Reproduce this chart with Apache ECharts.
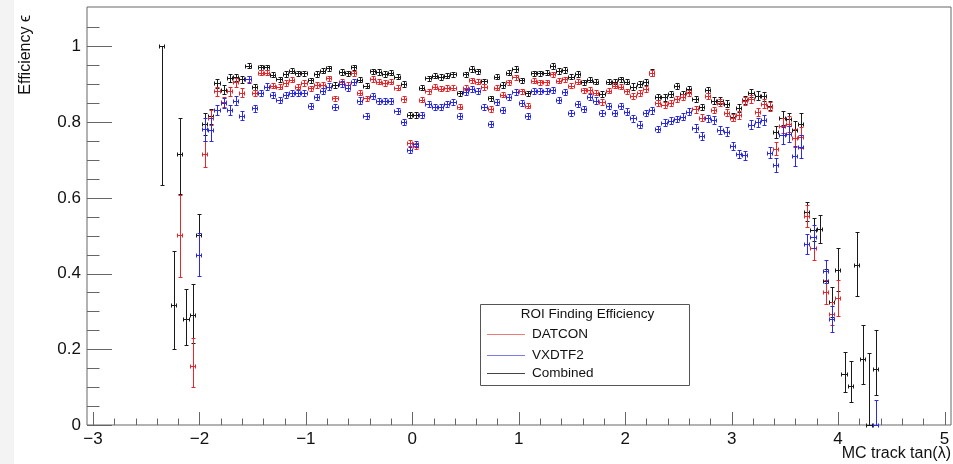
<!DOCTYPE html>
<html>
<head>
<meta charset="utf-8">
<title>ROI Finding Efficiency</title>
<script src="https://cdn.jsdelivr.net/npm/echarts@6/dist/echarts.min.js"></script>
<style>
  html, body { margin: 0; padding: 0; background: #fff; }
  #chart { width: 953px; height: 464px; }
</style>
</head>
<body>
<div id="chart"></div>
<script>
// Histogram binning in tan(lambda): centre of the first filled bin and bin width
const BIN_FIRST = -2.355;
const BIN_WIDTH = 0.05833;

// Axis ticks
const X_TICKS = [-3, -2, -1, 0, 1, 2, 3, 4, 5];
const X_TICK_LABELS = ['−3', '−2', '−1', '0', '1', '2', '3', '4', '5'];
const X_MINOR_STEP = 0.2;
const Y_TICKS = [0, 0.2, 0.4, 0.6, 0.8, 1];
const Y_TICK_LABELS = ['0', '0.2', '0.4', '0.6', '0.8', '1'];
const Y_MINOR_STEP = 0.05;

// Efficiency per bin: [eff, err] or [eff, errDown, errUp]; null = empty bin
const COMBINED = [
  [1.000, 0.365, 0], null, [0.316, 0.116, 0.144], [0.716, 0.106, 0.094], [0.281, 0.069, 0.079],
  [0.290, 0.073, 0.083], [0.503, 0.055], [0.795, 0.030], [0.815, 0.020], [0.903, 0.012],
  [0.885, 0.012], [0.916, 0.010], [0.918, 0.010], [0.913, 0.010], [0.949, 0.007],
  [0.892, 0.008], [0.945, 0.007], [0.945, 0.007], [0.925, 0.007], [0.913, 0.007],
  [0.927, 0.007], [0.936, 0.007], [0.929, 0.007], [0.929, 0.007], [0.910, 0.007],
  [0.927, 0.007], [0.936, 0.007], [0.942, 0.007], [0.898, 0.007], [0.932, 0.007],
  [0.929, 0.007], [0.945, 0.007], [0.912, 0.007], [0.896, 0.007], [0.934, 0.007],
  [0.932, 0.007], [0.927, 0.007], [0.931, 0.007], [0.920, 0.007], [0.901, 0.007],
  [0.819, 0.007], [0.819, 0.007], [0.891, 0.007], [0.916, 0.007], [0.923, 0.007],
  [0.919, 0.007], [0.923, 0.007], [0.926, 0.007], [0.876, 0.007], [0.926, 0.007],
  [0.940, 0.007], [0.934, 0.007], [0.908, 0.007], [0.863, 0.007], [0.920, 0.007],
  [0.898, 0.007], [0.931, 0.007], [0.940, 0.007], [0.910, 0.007], [0.876, 0.007],
  [0.929, 0.007], [0.929, 0.007], [0.931, 0.007], [0.948, 0.007], [0.935, 0.007],
  [0.938, 0.007], [0.920, 0.007], [0.927, 0.007], [0.905, 0.007], [0.912, 0.007],
  [0.907, 0.007], [0.874, 0.007], [0.907, 0.007], [0.907, 0.007], [0.913, 0.007],
  [0.907, 0.007], [0.894, 0.008], [0.900, 0.008], [0.905, 0.008], [0.931, 0.008],
  [0.866, 0.008], [0.865, 0.008], [0.873, 0.008], [0.896, 0.008], [0.873, 0.008],
  [0.887, 0.008], [0.861, 0.009], [0.840, 0.009], [0.885, 0.009], [0.856, 0.009],
  [0.857, 0.009], [0.849, 0.010], [0.814, 0.010], [0.837, 0.010], [0.858, 0.010],
  [0.876, 0.011], [0.870, 0.011], [0.868, 0.012], [0.843, 0.012], [0.773, 0.016],
  [0.811, 0.018], [0.807, 0.018], [0.780, 0.022], [0.795, 0.028], [0.562, 0.024, 0.026],
  [0.516, 0.030], [0.518, 0.037], [0.381, 0.030], [0.324, 0.040], [0.410, 0.057],
  [0.135, 0.047, 0.058], [0.104, 0.044, 0.064], [0.423, 0.083, 0.087], [0.173, 0.066, 0.090], [0, 0, 0.189],
  [0.148, 0.070, 0.104]
];

const DATCON = [
  null, null, null, [0.503, 0.113, 0.105], null,
  [0.157, 0.057, 0.073], null, [0.716, 0.035], [0.812, 0.020], [0.881, 0.013],
  [0.854, 0.013], [0.881, 0.011], [0.905, 0.011], [0.878, 0.011], [0.915, 0.008],
  [0.876, 0.008], [0.931, 0.007], [0.931, 0.007], [0.896, 0.007], [0.894, 0.007],
  [0.903, 0.007], [0.912, 0.007], [0.894, 0.007], [0.903, 0.007], [0.889, 0.007],
  [0.898, 0.007], [0.898, 0.007], [0.916, 0.007], [0.863, 0.007], [0.907, 0.007],
  [0.898, 0.007], [0.929, 0.007], [0.878, 0.007], [0.863, 0.007], [0.914, 0.007],
  [0.907, 0.007], [0.903, 0.007], [0.907, 0.007], [0.891, 0.007], [0.861, 0.007],
  [0.746, 0.008], [0.736, 0.008], [0.859, 0.007], [0.881, 0.007], [0.894, 0.007],
  [0.888, 0.007], [0.890, 0.007], [0.891, 0.007], [0.841, 0.007], [0.891, 0.007],
  [0.910, 0.007], [0.907, 0.007], [0.893, 0.007], [0.835, 0.007], [0.891, 0.007],
  [0.872, 0.007], [0.905, 0.007], [0.918, 0.007], [0.881, 0.007], [0.843, 0.007],
  [0.909, 0.007], [0.905, 0.007], [0.905, 0.007], [0.926, 0.007], [0.909, 0.007],
  [0.913, 0.007], [0.896, 0.007], [0.907, 0.007], [0.884, 0.007], [0.885, 0.007],
  [0.878, 0.007], [0.853, 0.007], [0.883, 0.007], [0.896, 0.007], [0.894, 0.007],
  [0.881, 0.007], [0.870, 0.008], [0.876, 0.008], [0.887, 0.008], [0.930, 0.008],
  [0.850, 0.008], [0.845, 0.008], [0.850, 0.008], [0.861, 0.008], [0.867, 0.008],
  [0.877, 0.008], [0.834, 0.009], [0.812, 0.009], [0.869, 0.009], [0.832, 0.009],
  [0.851, 0.009], [0.825, 0.010], [0.812, 0.010], [0.819, 0.010], [0.856, 0.010],
  [0.861, 0.011], [0.826, 0.011], [0.848, 0.012], [0.841, 0.012], [0.730, 0.018],
  [0.790, 0.020], [0.795, 0.020], [0.759, 0.024], [0.760, 0.028], [0.553, 0.029],
  [0.467, 0.030], null, [0.351, 0.031], [0.294, 0.030], [0.336, 0.048],
  null, null, null, null, null,
  null
];

const VXDTF2 = [
  null, null, null, null, null,
  null, [0.450, 0.057], [0.781, 0.030], [0.780, 0.030], [0.832, 0.014],
  [0.850, 0.014], [0.832, 0.012], [0.856, 0.012], [0.817, 0.012], [0.913, 0.009],
  [0.837, 0.009], [0.878, 0.008], [0.894, 0.008], [0.872, 0.008], [0.859, 0.008],
  [0.872, 0.008], [0.876, 0.008], [0.876, 0.008], [0.876, 0.008], [0.843, 0.008],
  [0.867, 0.008], [0.881, 0.008], [0.894, 0.008], [0.841, 0.008], [0.900, 0.008],
  [0.890, 0.008], [0.905, 0.008], [0.857, 0.008], [0.817, 0.008], [0.870, 0.008],
  [0.855, 0.008], [0.856, 0.008], [0.856, 0.008], [0.830, 0.008], [0.800, 0.008],
  [0.727, 0.008], [0.743, 0.008], [0.818, 0.008], [0.847, 0.008], [0.839, 0.008],
  [0.840, 0.008], [0.848, 0.008], [0.852, 0.008], [0.815, 0.008], [0.879, 0.008],
  [0.888, 0.008], [0.881, 0.008], [0.840, 0.008], [0.795, 0.008], [0.852, 0.008],
  [0.833, 0.008], [0.866, 0.008], [0.879, 0.008], [0.850, 0.008], [0.817, 0.008],
  [0.881, 0.008], [0.883, 0.008], [0.883, 0.008], [0.885, 0.008], [0.859, 0.008],
  [0.879, 0.008], [0.825, 0.008], [0.847, 0.008], [0.834, 0.008], [0.866, 0.008],
  [0.857, 0.008], [0.825, 0.008], [0.843, 0.008], [0.825, 0.008], [0.843, 0.008],
  [0.828, 0.008], [0.810, 0.009], [0.793, 0.009], [0.824, 0.009], [0.831, 0.009],
  [0.782, 0.009], [0.798, 0.009], [0.804, 0.009], [0.808, 0.009], [0.814, 0.009],
  [0.827, 0.009], [0.784, 0.010], [0.764, 0.010], [0.810, 0.010], [0.805, 0.010],
  [0.779, 0.010], [0.775, 0.011], [0.737, 0.011], [0.715, 0.011], [0.712, 0.011],
  [0.793, 0.012], [0.799, 0.012], [0.806, 0.013], [0.719, 0.014], [0.686, 0.018],
  [0.765, 0.022], [0.769, 0.022], [0.710, 0.026], [0.735, 0.030], [0.478, 0.027],
  [0.497, 0.030], null, [0.406, 0.031], [0.280, 0.034], null,
  null, null, null, null, null,
  [0, 0, 0.067]
];

const COLORS = { DATCON: '#e8262b', VXDTF2: '#2b2be6', Combined: '#1a1a1a' };
const LEGEND_LINE_COLORS = { DATCON: '#ec7a7a', VXDTF2: '#7a7ae8', Combined: '#444' };

const X_MIN = -3.056, X_MAX = 5.061;
const Y_MIN = 0, Y_MAX = 1.104;
const FONT = '"Liberation Sans", Arial, Helvetica, sans-serif';
const AXIS_COLOR = '#666';

// Turn the per-bin table into [x, eff, errDown, errUp] items
function toItems(bins) {
  const out = [];
  bins.forEach((e, i) => {
    if (!e) return;
    const x = BIN_FIRST + i * BIN_WIDTH;
    const lo = e[1];
    const hi = e.length > 2 ? e[2] : e[1];
    out.push([x, e[0], lo, hi]);
  });
  return out;
}

const half = v => Math.round(v) + 0.5;

// Error-bar cross with small end caps
function errorBars(color) {
  return function (params, api) {
    const x = api.value(0), y = api.value(1), lo = api.value(2), hi = api.value(3);
    const hw = BIN_WIDTH / 2;
    const l = api.coord([x - hw, y]);
    const r = api.coord([x + hw, y]);
    const c = api.coord([x, y]);
    const b = api.coord([x, y - lo]);
    const t = api.coord([x, y + hi]);
    const px = half(c[0]), py = half(c[1]);
    const by = half(b[1]), ty = half(t[1]);
    const lx = Math.round(l[0]) + 0.5, rx = Math.round(r[0]) - 0.5;
    const cap = 2;
    const style = { stroke: color, lineWidth: 1, fill: null };
    const seg = (x1, y1, x2, y2) => ({ type: 'line', shape: { x1, y1, x2, y2 }, style });
    const children = [
      seg(lx, py, rx, py),
      seg(px, by, px, ty),
      seg(lx, py - cap, lx, py + cap),
      seg(rx, py - cap, rx, py + cap)
    ];
    if (lo > 0) children.push(seg(px - cap, by, px + cap, by));
    if (hi > 0) children.push(seg(px - cap, ty, px + cap, ty));
    return { type: 'group', children };
  };
}

// Tick values
const xTickData = X_TICKS.map(v => [v, 1]);
for (let v = X_TICKS[0]; v < X_TICKS[X_TICKS.length - 1] - 1e-9; v += X_MINOR_STEP) {
  const r = Math.round(v * 10) / 10;
  if (Math.abs(r - Math.round(r)) > 1e-6) xTickData.push([r, 0]);
}
const yTickData = Y_TICKS.map(v => [v, 1]);
for (let k = 0; k * Y_MINOR_STEP < Y_MAX - 0.03; k++) {
  const v = Math.round(k * Y_MINOR_STEP * 100) / 100;
  if (Math.abs(v * 5 - Math.round(v * 5)) > 1e-6) yTickData.push([v, 0]);
}

const xTicks = {
  type: 'custom', coordinateSystem: 'cartesian2d', silent: true, clip: false, z: 5,
  data: xTickData,
  encode: { x: 0 },
  renderItem: function (params, api) {
    const v = api.value(0), major = api.value(1);
    const p = api.coord([v, Y_MIN]);
    const x = half(p[0]);
    const len = major ? 13 : 6.5;
    const children = [{
      type: 'line', shape: { x1: x, y1: p[1], x2: x, y2: p[1] - len },
      style: { stroke: AXIS_COLOR, lineWidth: 1 }
    }];
    if (major) {
      children.push({
        type: 'text',
        style: {
          text: X_TICK_LABELS[params.dataIndex], x: p[0], y: p[1] + 14,
          align: 'center', verticalAlign: 'middle',
          font: '17px ' + FONT, fill: '#111'
        }
      });
    }
    return { type: 'group', children };
  }
};

const yTicks = {
  type: 'custom', coordinateSystem: 'cartesian2d', silent: true, clip: false, z: 5,
  data: yTickData,
  encode: { y: 0 },
  renderItem: function (params, api) {
    const v = api.value(0), major = api.value(1);
    const p = api.coord([X_MIN, v]);
    const y = half(p[1]);
    const len = major ? 25 : 12.5;
    const children = [{
      type: 'line', shape: { x1: p[0], y1: y, x2: p[0] + len, y2: y },
      style: { stroke: AXIS_COLOR, lineWidth: 1 }
    }];
    if (major) {
      children.push({
        type: 'text',
        style: {
          text: Y_TICK_LABELS[params.dataIndex], x: p[0] - 6, y: p[1],
          align: 'right', verticalAlign: 'middle',
          font: '17px ' + FONT, fill: '#111'
        }
      });
    }
    return { type: 'group', children };
  }
};

function effSeries(name, bins, z) {
  return {
    name, type: 'custom', coordinateSystem: 'cartesian2d', clip: false, z,
    data: toItems(bins),
    encode: { x: 0, y: 1 },
    renderItem: errorBars(COLORS[name])
  };
}

// Legend box
const LEG = { x: 480, y: 304, w: 209, h: 81 };
const legendRows = [
  { name: 'DATCON', y: 334 },
  { name: 'VXDTF2', y: 355 },
  { name: 'Combined', y: 373 }
];
const legendGraphic = [
  {
    type: 'rect', shape: { x: LEG.x + 0.5, y: LEG.y + 0.5, width: LEG.w, height: LEG.h },
    style: { fill: '#fff', stroke: '#555', lineWidth: 1 }, z: 20
  },
  {
    type: 'text', x: LEG.x + LEG.w / 2 + 3, y: 314, z: 21,
    style: { text: 'ROI Finding Efficiency', align: 'center', verticalAlign: 'middle', font: '13.5px ' + FONT, fill: '#111' }
  }
];
legendRows.forEach(row => {
  legendGraphic.push({
    type: 'line', z: 21,
    shape: { x1: 487, y1: row.y + 0.5, x2: 525, y2: row.y + 0.5 },
    style: { stroke: LEGEND_LINE_COLORS[row.name], lineWidth: 1 }
  });
  legendGraphic.push({
    type: 'text', x: 532, y: row.y, z: 21,
    style: { text: row.name, align: 'left', verticalAlign: 'middle', font: '13.5px ' + FONT, fill: '#111' }
  });
});

const chart = echarts.init(document.getElementById('chart'), null, { renderer: 'canvas' });
chart.setOption({
  animation: false,
  backgroundColor: '#fff',
  grid: {
    left: 87, top: 7, width: 864, height: 418,
    show: true, borderColor: AXIS_COLOR, borderWidth: 1, backgroundColor: '#fff'
  },
  xAxis: {
    type: 'value', min: X_MIN, max: X_MAX,
    axisLine: { show: false }, axisTick: { show: false }, axisLabel: { show: false }, splitLine: { show: false }
  },
  yAxis: {
    type: 'value', min: Y_MIN, max: Y_MAX,
    axisLine: { show: false }, axisTick: { show: false }, axisLabel: { show: false }, splitLine: { show: false }
  },
  graphic: [
    { type: 'rect', shape: { x: 0, y: 0, width: 14, height: 464 }, style: { fill: '#f3f3f3' }, z: -1 },
    {
      type: 'text', x: 26, y: 15, rotation: Math.PI / 2,
      style: { text: 'Efficiency ϵ', align: 'right', verticalAlign: 'middle', font: '16px ' + FONT, fill: '#111' }
    },
    {
      type: 'text', x: 951, y: 454,
      style: { text: 'MC track tan(λ)', align: 'right', verticalAlign: 'middle', font: '16px ' + FONT, fill: '#111' }
    }
  ].concat(legendGraphic),
  series: [
    xTicks,
    yTicks,
    effSeries('Combined', COMBINED, 10),
    effSeries('DATCON', DATCON, 11),
    effSeries('VXDTF2', VXDTF2, 12)
  ]
});
</script>
</body>
</html>
